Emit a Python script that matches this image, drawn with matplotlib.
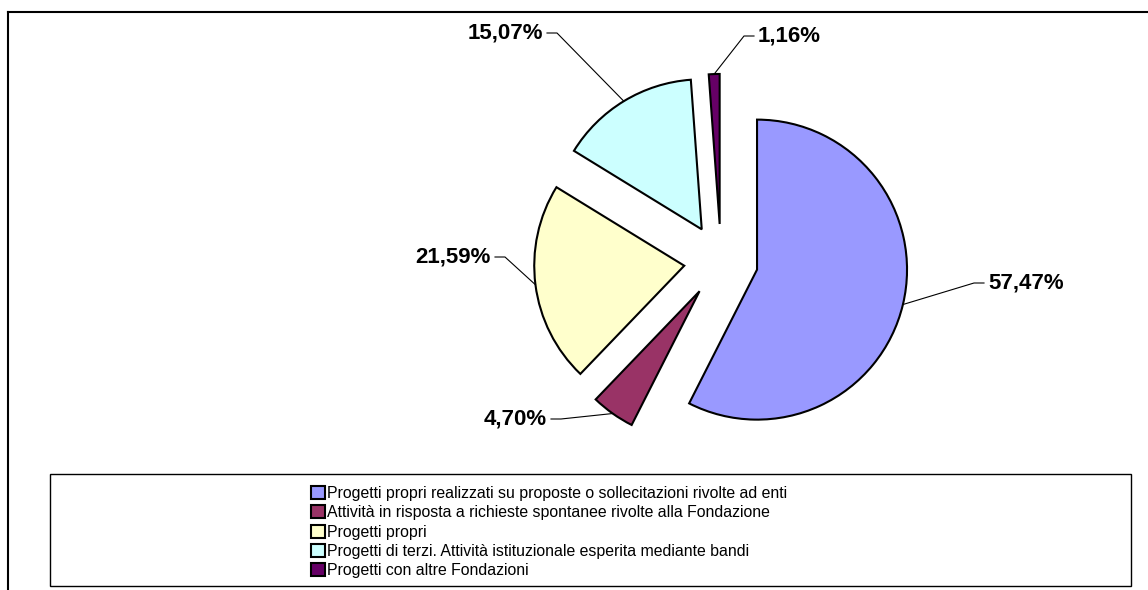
import numpy as np
import matplotlib
matplotlib.use("Agg")
import matplotlib.pyplot as plt
from matplotlib.patches import Rectangle

plt.rcParams['font.family'] = ['Liberation Sans', 'DejaVu Sans']

## data
categories = [
    "Progetti propri realizzati su proposte o sollecitazioni rivolte ad enti",
    "Attività in risposta a richieste spontanee rivolte alla Fondazione",
    "Progetti propri",
    "Progetti di terzi. Attività istituzionale esperita mediante bandi",
    "Progetti con altre Fondazioni",
]
shares = [57.47, 4.70, 21.59, 15.07, 1.16]
colors = ['#9999FF', '#993366', '#FFFFCC', '#CCFFFF', '#660066']

## layout (pixels of the 1148x590 picture)
W, H = 1148, 590
cx, cy, R = 721, 261, 150          # pie centre and radius
# text anchor of each label, horizontal alignment
lab_pos = [(988, 283), (547, 419), (491, 257), (543, 33), (758, 36)]
lab_ha = ['left', 'right', 'right', 'right', 'left']

def ux(px):
    return (px - cx) / R

def uy(py):
    return (cy - py) / R

fig = plt.figure(figsize=(W / 100, H / 100), dpi=100)
ax = fig.add_axes([0, 0, 1, 1])

wedges, _ = ax.pie(shares, colors=colors, startangle=90, counterclock=False,
                   explode=[0.247] * len(shares), radius=1,
                   wedgeprops=dict(edgecolor='black', linewidth=1.5))

ax.set_xlim(ux(0), ux(W))
ax.set_ylim(uy(H), uy(0))
ax.set_aspect('equal')
ax.axis('off')

## labels with leader lines
for w, val, (tx, ty), ha in zip(wedges, shares, lab_pos, lab_ha):
    tm = np.radians((w.theta1 + w.theta2) / 2)
    x0 = w.center[0] + w.r * np.cos(tm)
    y0 = w.center[1] + w.r * np.sin(tm)
    sgn = 1 if ha == 'right' else -1
    xs = [x0, ux(tx + sgn * 14), ux(tx + sgn * 4)]
    ys = [y0, uy(ty), uy(ty)]
    ax.plot(xs, ys, color='black', lw=0.8)
    ax.text(ux(tx), uy(ty), f"{val:.2f}%".replace('.', ','), ha=ha, va='center',
            fontsize=16, fontweight='bold')

## legend
leg = ax.legend(wedges, categories, loc='upper left',
                bbox_to_anchor=(311 / W, 1 - 486 / H), bbox_transform=fig.transFigure,
                frameon=False, fontsize=11.4, handlelength=0.9, handleheight=0.9,
                handletextpad=0.12, labelspacing=0.27, borderpad=0, borderaxespad=0)

## legend box and outer frame
fig.patches.append(Rectangle((50 / W, 1 - 586 / H), 1081 / W, 112 / H, transform=fig.transFigure,
                             fill=False, edgecolor='black', lw=1.0))
fig.lines.append(plt.Line2D([8 / W, 8 / W], [0, 1 - 12 / H], transform=fig.transFigure,
                            color='black', lw=1.5))
fig.lines.append(plt.Line2D([8 / W, 1], [1 - 12 / H, 1 - 12 / H], transform=fig.transFigure,
                            color='black', lw=1.5))

fig.savefig('out.png', dpi=100)
